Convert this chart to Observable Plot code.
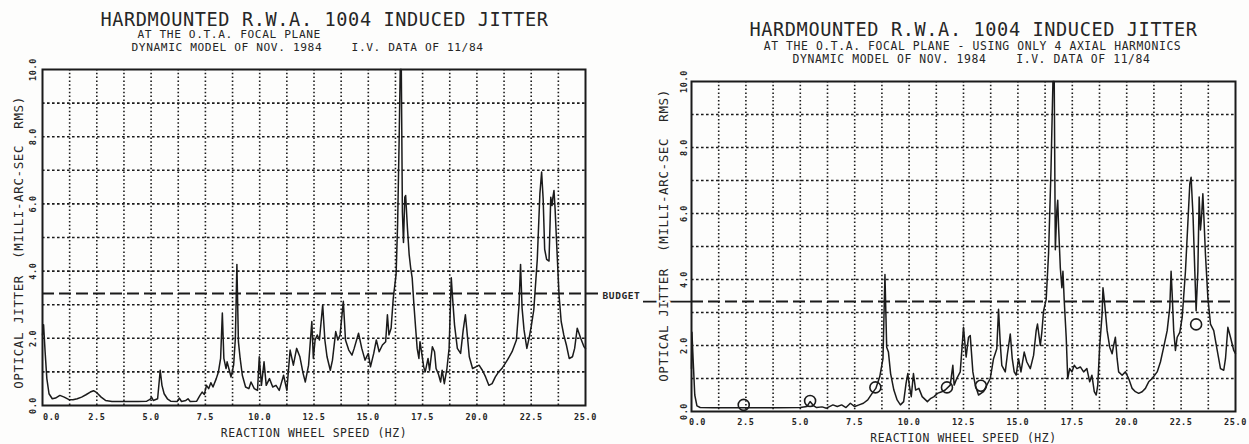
<!DOCTYPE html>
<html>
<head>
<meta charset="utf-8">
<script src="https://cdn.jsdelivr.net/npm/d3@7"></script>
<script src="https://cdn.jsdelivr.net/npm/@observablehq/plot@0.6"></script>
<style>
  html, body { margin: 0; padding: 0; background: #fdfdfc; }
  #wrap { position: relative; width: 1249px; height: 444px; overflow: hidden; background: #fdfdfc; }
  #wrap > div { position: absolute; top: 0; }
</style>
</head>
<body>
<div id="wrap"><div id="left" style="left:0px"></div><div id="right" style="left:620px"></div></div>
<script>
// ---------- data ----------
const titleMain = "HARDMOUNTED R.W.A. 1004 INDUCED JITTER";
const subLeft = "AT THE O.T.A. FOCAL PLANE";
const subRight = "AT THE O.T.A. FOCAL PLANE - USING ONLY 4 AXIAL HARMONICS";
const subModel = "DYNAMIC MODEL OF NOV. 1984\u00a0\u00a0\u00a0\u00a0I.V. DATA OF 11/84";
const xLabel = "REACTION WHEEL SPEED (HZ)";
const yLabel = "OPTICAL JITTER\u00a0\u00a0(MILLI-ARC-SEC\u00a0\u00a0RMS)";
const budgetLabel = "BUDGET";
const budget = 3.33;

const xTickValues = [0, 2.5, 5, 7.5, 10, 12.5, 15, 17.5, 20, 22.5, 25];
const yTickValues = [0, 2, 4, 6, 8, 10];

// Left panel: full model
const speedFull = [0, 0.05, 0.12, 0.2, 0.3, 0.45, 0.6, 0.8, 1.0, 1.2, 1.4, 1.6, 1.8, 2.0, 2.2, 2.35, 2.5, 2.7, 2.9, 3.2, 3.6, 4.0, 4.4, 4.8, 4.95, 5.02, 5.1, 5.3, 5.42, 5.5, 5.6, 5.75, 5.9, 6.2, 6.3, 6.4, 6.6, 6.7, 6.8, 7.1, 7.25, 7.35, 7.45, 7.55, 7.65, 7.75, 7.85, 8.0, 8.1, 8.2, 8.28, 8.35, 8.45, 8.5, 8.6, 8.68, 8.8, 8.88, 8.95, 9.02, 9.1, 9.2, 9.35, 9.5, 9.6, 9.75, 9.9, 9.98, 10.08, 10.2, 10.3, 10.45, 10.6, 10.75, 10.9, 11.1, 11.25, 11.4, 11.55, 11.7, 11.85, 12.0, 12.1, 12.25, 12.4, 12.47, 12.55, 12.65, 12.75, 12.9, 13.0, 13.1, 13.25, 13.35, 13.5, 13.6, 13.7, 13.85, 13.95, 14.1, 14.25, 14.35, 14.55, 14.7, 14.85, 15.0, 15.1, 15.25, 15.37, 15.5, 15.65, 15.8, 15.88, 15.95, 16.05, 16.15, 16.28, 16.35, 16.42, 16.47, 16.52, 16.57, 16.62, 16.68, 16.72, 16.8, 16.88, 16.95, 17.02, 17.1, 17.18, 17.25, 17.33, 17.38, 17.45, 17.55, 17.62, 17.75, 17.82, 17.95, 18.05, 18.12, 18.22, 18.33, 18.4, 18.5, 18.62, 18.72, 18.82, 18.88, 18.97, 19.1, 19.25, 19.37, 19.47, 19.53, 19.65, 19.8, 19.95, 20.1, 20.25, 20.4, 20.55, 20.7, 20.85, 21.0, 21.15, 21.4, 21.62, 21.82, 21.94, 22.01, 22.08, 22.17, 22.3, 22.4, 22.5, 22.62, 22.78, 22.9, 22.98, 23.05, 23.12, 23.21, 23.32, 23.37, 23.4, 23.46, 23.5, 23.55, 23.6, 23.68, 23.78, 23.88, 24.0, 24.12, 24.25, 24.4, 24.5, 24.62, 24.78, 24.93, 25.0];
const jitterFull = [2.1, 2.4, 1.6, 0.8, 0.35, 0.2, 0.22, 0.3, 0.25, 0.18, 0.17, 0.2, 0.25, 0.32, 0.4, 0.44, 0.38, 0.25, 0.15, 0.12, 0.12, 0.12, 0.12, 0.13, 0.18, 0.25, 0.15, 0.2, 1.05, 0.6, 0.35, 0.2, 0.13, 0.12, 0.22, 0.12, 0.15, 0.2, 0.12, 0.13, 0.3, 0.4, 0.33, 0.6, 0.5, 0.68, 0.55, 0.8, 1.0, 1.4, 2.75, 1.4, 1.1, 1.3, 1.05, 0.85, 1.2, 2.0, 4.2, 1.9, 1.4, 0.9, 0.55, 0.5, 0.7, 0.5, 0.45, 1.45, 0.6, 1.3, 0.6, 0.8, 0.55, 0.6, 0.45, 0.9, 0.45, 1.65, 1.2, 1.7, 1.45, 0.95, 0.7, 1.2, 2.5, 1.4, 1.95, 2.1, 1.95, 3.0, 1.95, 1.45, 1.05, 1.35, 2.2, 1.95, 2.1, 3.1, 1.95, 1.65, 1.5, 1.7, 2.15, 1.7, 1.35, 1.55, 1.15, 1.55, 1.95, 1.6, 1.8, 1.9, 2.7, 2.1, 2.3, 3.2, 3.9, 5.4, 7.9, 10, 10, 5.75, 4.85, 6.2, 6.25, 5.3, 4.5, 4.1, 3.8, 3.0, 2.3, 1.7, 1.4, 1.9, 1.6, 1.15, 1.0, 1.4, 1.05, 1.75, 1.6, 1.1, 0.95, 0.7, 1.05, 0.65, 1.1, 1.7, 3.8, 3.2, 2.4, 1.7, 1.55, 2.25, 2.7, 2.3, 1.45, 1.1, 1.15, 1.2, 1.05, 0.85, 0.6, 0.65, 0.85, 1.0, 1.1, 1.35, 1.6, 1.95, 3.0, 4.2, 2.9, 2.25, 1.7, 2.0, 2.35, 2.85, 4.35, 6.3, 6.95, 6.15, 4.65, 4.35, 4.3, 5.45, 6.2, 5.95, 6.2, 6.4, 5.85, 4.7, 3.3, 2.5, 2.1, 1.8, 1.4, 1.45, 1.7, 2.3, 2.0, 1.75, 1.7];

// Right panel: only 4 axial harmonics
const speedAxial = [0, 0.02, 0.08, 0.15, 0.25, 0.4, 1.0, 2.0, 3.0, 4.0, 5.0, 5.3, 5.45, 5.6, 5.75, 6.0, 6.2, 6.5, 6.7, 6.9, 7.1, 7.3, 7.5, 7.7, 7.9, 8.1, 8.3, 8.47, 8.65, 8.8, 8.89, 8.97, 9.05, 9.15, 9.3, 9.45, 9.6, 9.75, 9.86, 9.94, 10.02, 10.1, 10.2, 10.3, 10.45, 10.6, 10.84, 11.0, 11.15, 11.3, 11.5, 11.66, 11.89, 12.01, 12.07, 12.19, 12.35, 12.5, 12.62, 12.73, 12.81, 12.93, 13.04, 13.19, 13.42, 13.57, 13.73, 13.88, 14.03, 14.11, 14.19, 14.26, 14.42, 14.52, 14.65, 14.74, 14.83, 14.92, 15.03, 15.14, 15.29, 15.41, 15.57, 15.72, 15.84, 15.9, 16.03, 16.1, 16.18, 16.3, 16.41, 16.52, 16.61, 16.67, 16.72, 16.79, 16.83, 16.87, 16.95, 17.02, 17.07, 17.13, 17.22, 17.29, 17.38, 17.48, 17.59, 17.71, 17.87, 18.02, 18.17, 18.3, 18.4, 18.51, 18.6, 18.67, 18.76, 18.87, 18.91, 18.99, 19.1, 19.22, 19.33, 19.4, 19.48, 19.56, 19.63, 19.79, 19.94, 20.09, 20.25, 20.4, 20.55, 20.71, 20.86, 21.01, 21.17, 21.4, 21.55, 21.7, 21.86, 21.98, 22.04, 22.09, 22.16, 22.24, 22.32, 22.44, 22.55, 22.7, 22.81, 22.9, 22.96, 23.05, 23.13, 23.19, 23.27, 23.33, 23.39, 23.44, 23.5, 23.54, 23.62, 23.73, 23.85, 24.0, 24.16, 24.31, 24.46, 24.54, 24.65, 24.77, 24.92, 25.0];
const jitterAxial = [1.3, 2.4, 1.5, 0.5, 0.17, 0.12, 0.11, 0.11, 0.11, 0.11, 0.12, 0.15, 0.3, 0.18, 0.12, 0.14, 0.1, 0.2, 0.15, 0.2, 0.12, 0.25, 0.15, 0.2, 0.25, 0.35, 0.55, 0.7, 1.05, 1.6, 4.15, 1.95, 1.8, 1.15, 0.65, 0.35, 0.2, 0.3, 0.85, 1.15, 0.75, 0.45, 1.15, 0.65, 0.7, 0.45, 0.3, 0.4, 0.45, 0.55, 0.6, 0.65, 0.8, 1.4, 0.8, 1.0, 1.2, 2.55, 1.65, 2.25, 2.3, 1.2, 0.8, 0.5, 0.6, 0.8, 1.0, 1.6, 1.9, 3.1, 2.05, 1.4, 1.2, 1.75, 2.35, 1.6, 1.2, 1.1, 1.6, 1.2, 1.8, 1.5, 1.3, 1.7, 2.45, 2.65, 2.0, 2.4, 3.05, 3.4, 4.8, 7.3, 10, 10, 4.9, 6.1, 6.4, 5.6, 4.35, 3.75, 4.25, 3.35, 2.25, 1.0, 1.3, 1.2, 1.4, 1.3, 1.35, 1.2, 1.3, 0.9, 1.1, 0.6, 0.5, 0.8, 2.0, 2.95, 3.75, 3.25, 2.45, 1.95, 1.75, 2.0, 2.25, 1.6, 1.2, 1.1, 1.2, 1.0, 0.7, 0.6, 0.55, 0.6, 0.7, 0.9, 1.0, 1.2, 1.5, 1.95, 2.45, 3.15, 4.25, 3.55, 2.45, 1.85, 2.25, 2.4, 2.85, 4.25, 5.7, 6.9, 7.1, 5.9, 4.25, 3.05, 4.25, 6.5, 5.5, 5.9, 6.6, 6.0, 4.75, 3.45, 2.65, 2.45, 1.85, 1.3, 1.25, 1.6, 2.55, 2.25, 1.85, 1.75];

// circled axial harmonics (right panel)
const harmonicSpeed = [2.4, 5.45, 8.45, 11.74, 13.3, 23.19];
const harmonicJitter = [0.2, 0.32, 0.73, 0.73, 0.78, 2.64];

// ---------- helpers ----------
const zip = (xs, ys) => xs.map((x, i) => ({speed: x, jitter: ys[i]}));
const fullData = zip(speedFull, jitterFull);
const axialData = zip(speedAxial, jitterAxial);
const harmData = zip(harmonicSpeed, harmonicJitter);

const ink = "#1b1b1b";
const textInk = "#262626";
const paper = "#fdfdfc";
const font = "DejaVu Sans Mono";
const gridX = d3.range(1.25, 25, 1.25);
const gridY = d3.range(1, 10, 1);
const txt = {fill: textInk, fontFamily: font, textAnchor: "middle", lineAnchor: "middle"};

function baseMarks(o) {
  return [
    Plot.ruleX(gridX, {stroke: ink, strokeWidth: 1.6, strokeDasharray: "1.5,2.3"}),
    Plot.ruleY(gridY, {stroke: ink, strokeWidth: 1.6, strokeDasharray: "2.6,2.4"}),
    Plot.frame({stroke: ink, strokeWidth: 2}),
    Plot.text(xTickValues.slice(1), {...txt, x: d => d, text: d => d.toFixed(1), frameAnchor: "bottom", dy: o.xTickDy, fontSize: 8.5, fontWeight: "bold"}),
    Plot.text(xTickValues.slice(0, 1), {...txt, x: d => d, text: d => d.toFixed(1), frameAnchor: "bottom", dy: o.xTickDy, dx: o.zeroDx, fontSize: 8.5, fontWeight: "bold"}),
    Plot.text(yTickValues, {...txt, y: d => d, text: d => d.toFixed(1), frameAnchor: "left", dx: o.yTickDx, rotate: -90, fontSize: 8.5, fontWeight: "bold"}),
    Plot.text([xLabel], {...txt, text: d => d, frameAnchor: "bottom", dy: o.xLabelDy, fontSize: 11.4})
  ];
}

function yLabelMark(o) {
  return Plot.text([yLabel], {...txt, text: d => d, frameAnchor: "left", dx: o.yLabelDx, dy: o.yLabelDy, rotate: -90, fontSize: 12.5, stroke: paper, strokeWidth: 5});
}

const svgStyle = "font-family: 'DejaVu Sans Mono'; letter-spacing: 0.06em; background: transparent; overflow: visible;";

// ---------- left panel ----------
const left = Plot.plot({
  width: 620, height: 444,
  marginLeft: 42, marginRight: 35, marginTop: 69, marginBottom: 39,
  x: {domain: [0, 25], axis: null},
  y: {domain: [0, 10], axis: null},
  style: svgStyle,
  marks: [
    ...baseMarks({xTickDy: 12, zeroDx: 9, yTickDx: -9, xLabelDy: 28}),
    Plot.ruleY([budget], {stroke: ink, strokeWidth: 2, strokeDasharray: "12,5", insetRight: -13}),
    Plot.text([budget], {...txt, y: d => d, text: () => budgetLabel, frameAnchor: "right", textAnchor: "start", dx: 17, dy: 2.5, fontSize: 9.5, fontWeight: "bold"}),
    Plot.line(fullData, {x: "speed", y: "jitter", stroke: ink, strokeWidth: 1.5}),
    Plot.text([titleMain], {...txt, text: d => d, frameAnchor: "top", dx: 10.5, dy: -49.5, fontSize: 18.6}),
    Plot.text([subLeft], {...txt, text: d => d, frameAnchor: "top-left", textAnchor: "start", dx: 95, dy: -35.5, fontSize: 11.2}),
    Plot.text([subModel], {...txt, text: d => d, frameAnchor: "top-left", textAnchor: "start", dx: 89, dy: -22.3, fontSize: 11.2}),
    yLabelMark({yLabelDx: -24, yLabelDy: 5})
  ]
});
document.getElementById("left").appendChild(left);

// ---------- right panel ----------
const right = Plot.plot({
  width: 629, height: 444,
  marginLeft: 71, marginRight: 14, marginTop: 81, marginBottom: 33,
  x: {domain: [0, 25], axis: null},
  y: {domain: [0, 10], axis: null},
  style: svgStyle,
  marks: [
    ...baseMarks({xTickDy: 11, zeroDx: 6, yTickDx: -7, xLabelDy: 27}),
    Plot.ruleY([budget], {stroke: ink, strokeWidth: 2, strokeDasharray: "12,5"}),
    Plot.ruleY([budget], {x1: 0, x2: 0, stroke: ink, strokeWidth: 1.6, insetLeft: -48}),
    Plot.line(axialData, {x: "speed", y: "jitter", stroke: ink, strokeWidth: 1.5}),
    Plot.dot(harmData, {x: "speed", y: "jitter", r: 5.5, stroke: ink, strokeWidth: 1.6, fill: "none"}),
    Plot.text([titleMain], {...txt, text: d => d, frameAnchor: "top", dx: 10, dy: -51, fontSize: 18.6}),
    Plot.text([subRight], {...txt, text: d => d, frameAnchor: "top", dx: 9, dy: -35, fontSize: 11.4}),
    Plot.text([subModel], {...txt, text: d => d, frameAnchor: "top", dx: 8, dy: -22, fontSize: 11.4}),
    yLabelMark({yLabelDx: -28, yLabelDy: -11})
  ]
});
document.getElementById("right").appendChild(right);
</script>
</body>
</html>
